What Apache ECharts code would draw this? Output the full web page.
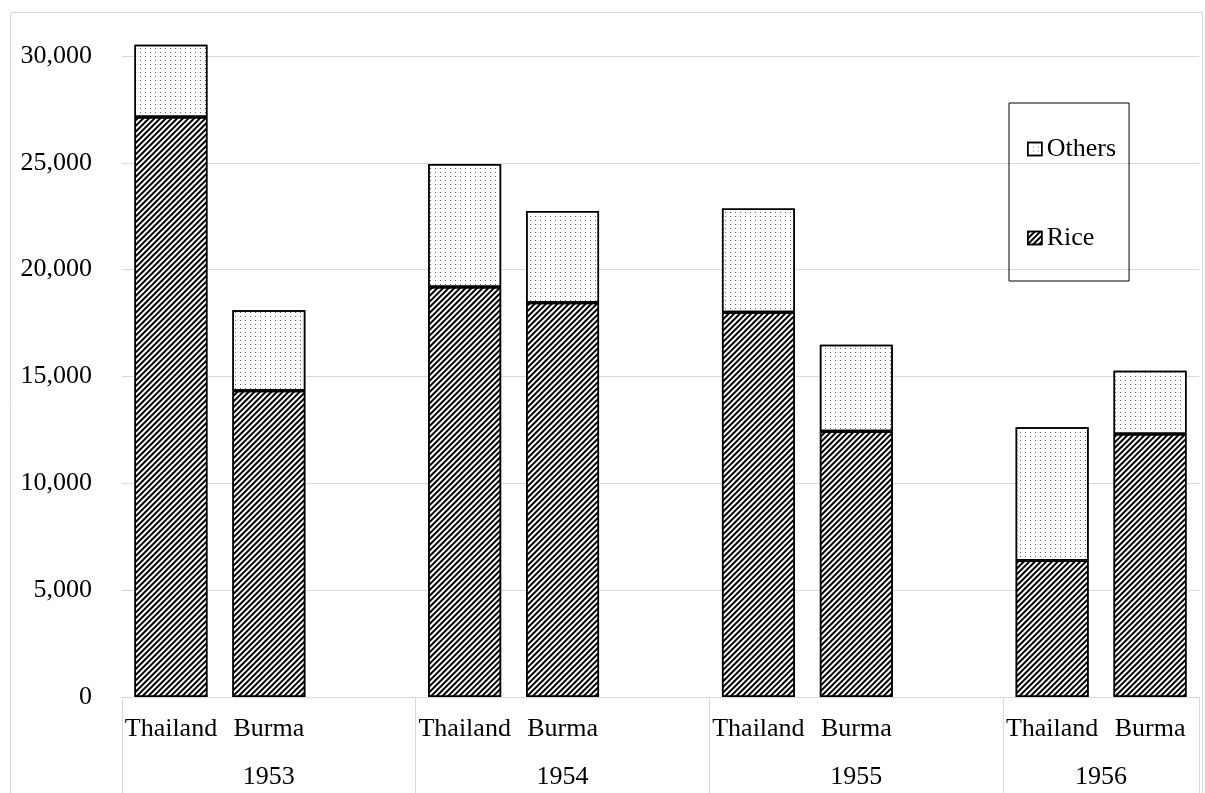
<!DOCTYPE html>
<html>
<head>
<meta charset="utf-8">
<script src="https://cdn.jsdelivr.net/npm/echarts@6/dist/echarts.min.js"></script>
<style>
  html, body { margin: 0; padding: 0; background: #fff; }
  #chart { width: 1205px; height: 793px; }
</style>
</head>
<body>
<div id="chart"></div>
<script>
// Exports of Thailand and Burma, by year (Rice vs. Others)
const years = ['1953', '1954', '1955', '1956'];
const countries = ['Thailand', 'Burma'];
const rice   = [27150, 14330, 19190, 18450, 18010, 12440, 6390, 12310];
const others = [3380, 3770, 5750, 4300, 4850, 4050, 6230, 2960];
const yMax = 30000;
const yStep = 5000;

const FONT = '"Liberation Serif", "Times New Roman", serif';
const FS = 26;

// One slot per country bar, with an empty slot between year groups
const categories = [];
const riceData = [];
const othersData = [];
const groupEdges = [0];
const groupCenters = [];
let k = 0;
years.forEach((y, yi) => {
  const start = categories.length;
  countries.forEach(c => {
    categories.push(c);
    riceData.push(rice[k]);
    othersData.push(others[k]);
    k++;
  });
  if (yi < years.length - 1) {
    categories.push('');
    riceData.push(null);
    othersData.push(null);
  }
  groupEdges.push(categories.length);
  groupCenters.push((start + categories.length) / 2);
});

const hatch = {
  symbol: 'rect',
  symbolSize: 1,
  color: '#000',
  dashArrayX: [1, 0],
  dashArrayY: [1.8, 1.3],
  rotation: -Math.PI / 4
};
const dots = {
  symbol: 'rect',
  symbolSize: 1,
  color: '#666',
  dashArrayX: [1, 3.3],
  dashArrayY: [1, 2.7],
  rotation: 0
};

const chart = echarts.init(document.getElementById('chart'), null, { renderer: 'canvas' });
chart.setOption({
  animation: false,
  backgroundColor: '#fff',
  graphic: [{
    type: 'rect',
    silent: true,
    z: -10,
    shape: { x: 10.5, y: 12.5, width: 1192, height: 800 },
    style: { fill: 'none', stroke: '#d9d9d9', lineWidth: 1 }
  }],
  grid: { left: 122, right: 6, top: 56, bottom: 96, containLabel: false },
  legend: {
    data: ['Others', 'Rice'],
    orient: 'vertical',
    left: 1009,
    top: 103,
    padding: [33, 13, 30, 18],
    itemGap: 63,
    itemWidth: 14,
    itemHeight: 13,
    icon: 'rect',
    borderColor: '#000',
    borderWidth: 1,
    itemStyle: { borderColor: '#000', borderWidth: 1.5 },
    textStyle: { fontFamily: FONT, fontSize: FS, color: '#000', lineHeight: 26 }
  },
  xAxis: [{
    type: 'category',
    data: categories,
    axisLine: { show: true, lineStyle: { color: '#d9d9d9', width: 1 } },
    axisTick: { show: false },
    axisLabel: { interval: 0, margin: 19, fontFamily: FONT, fontSize: FS, color: '#000' },
    splitLine: { show: false }
  }, {
    type: 'value',
    position: 'bottom',
    min: 0,
    max: categories.length,
    axisLine: { show: false },
    splitLine: { show: false },
    axisTick: {
      show: true,
      customValues: groupEdges,
      length: 100,
      lineStyle: { color: '#d9d9d9', width: 1 }
    },
    axisLabel: {
      customValues: groupCenters,
      margin: 67,
      fontFamily: FONT,
      fontSize: FS,
      color: '#000',
      formatter: v => years[groupCenters.indexOf(v)] || ''
    }
  }],
  yAxis: {
    type: 'value',
    min: 0,
    max: yMax,
    interval: yStep,
    axisLine: { show: false },
    axisTick: { show: false },
    splitLine: { lineStyle: { color: '#d9d9d9', width: 1 } },
    axisLabel: {
      margin: 30,
      fontFamily: FONT,
      fontSize: FS,
      color: '#000',
      formatter: v => v.toLocaleString('en-US')
    }
  },
  series: [{
    name: 'Rice',
    type: 'bar',
    stack: 'total',
    xAxisIndex: 0,
    barWidth: '74.5%',
    clip: false,
    data: riceData,
    itemStyle: { color: '#fff', borderColor: '#000', borderWidth: 1.5, decal: hatch }
  }, {
    name: 'Others',
    type: 'bar',
    stack: 'total',
    xAxisIndex: 0,
    barWidth: '74.5%',
    clip: false,
    data: othersData,
    itemStyle: { color: '#fff', borderColor: '#000', borderWidth: 1.5, decal: dots }
  }]
});
</script>
</body>
</html>
